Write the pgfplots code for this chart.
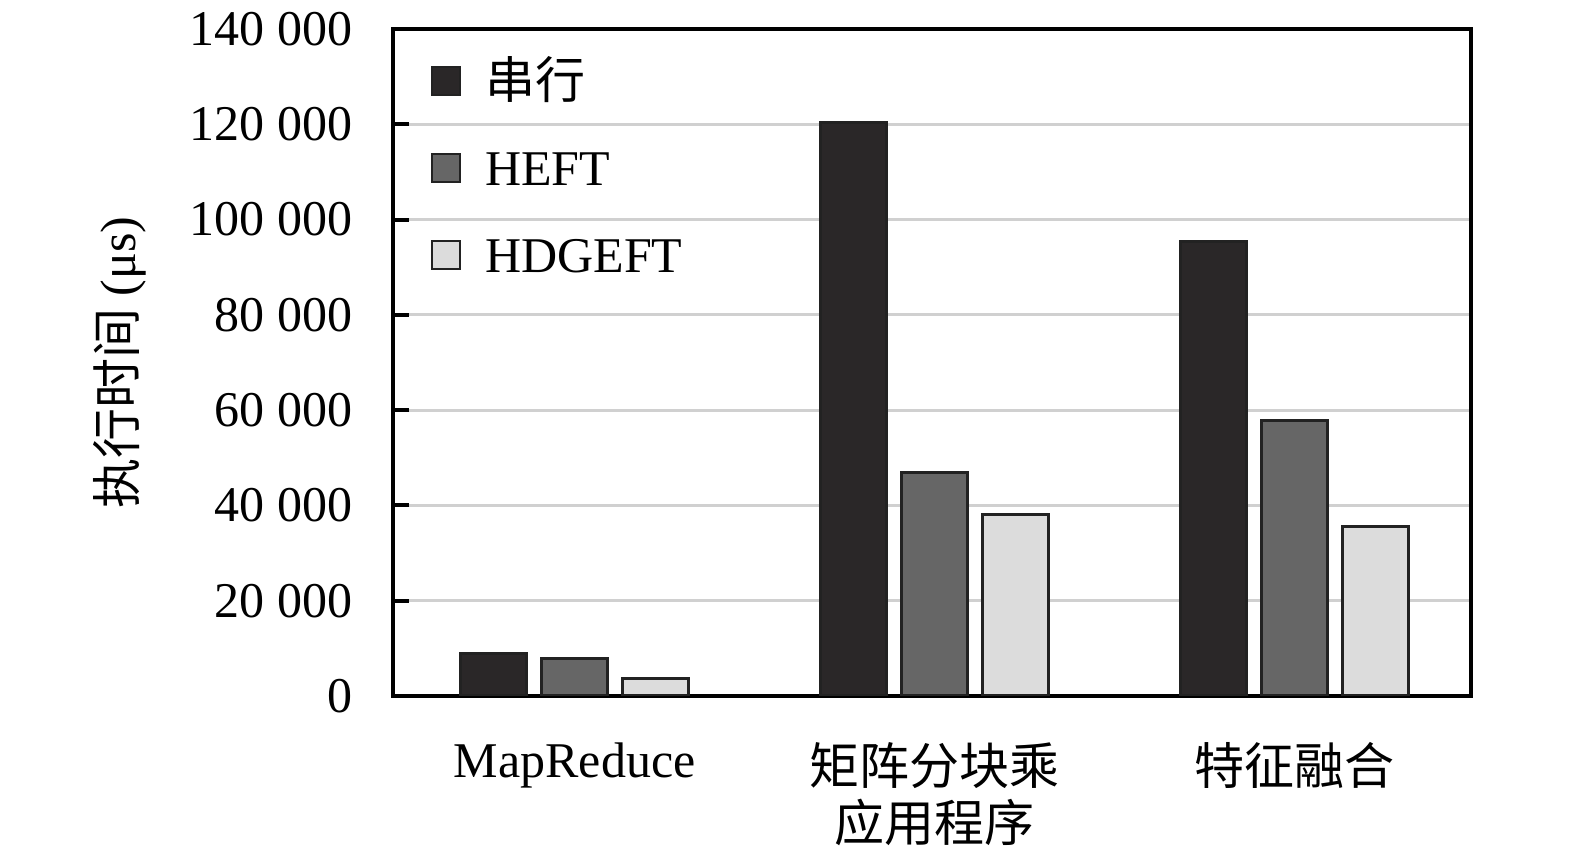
\documentclass[border=0pt]{standalone}
\usepackage{pgfplots}
\pgfplotsset{compat=1.18}
\usepackage{fontspec}
\setmainfont{Liberation Serif}
\newfontfamily\cjk{Noto Sans CJK SC}
\definecolor{cSer}{HTML}{2A2728}
\definecolor{cHeft}{HTML}{666666}
\definecolor{cHd}{HTML}{DCDCDC}
\definecolor{cEdge}{HTML}{222222}
\definecolor{cGrid}{HTML}{D0D0D0}
\newcommand{\fs}{\fontsize{12.5}{14.25}\selectfont}
\begin{document}
\begin{tikzpicture}
\begin{axis}[
  width=269.5pt, height=166.75pt, scale only axis,
  xmin=-0.505, xmax=2.49, ymin=0, ymax=140000,
  scaled y ticks=false,
  ybar, bar width=0.183,
  xtick={0,1,2},
  xticklabels={{MapReduce},{{\cjk 矩阵分块乘}\\{\cjk 应用程序}},{{\cjk 特征融合}}},
  xticklabel style={align=center, inner sep=0pt, font=\fs},
  xticklabel shift=11.5pt,
  ytick={0,20000,40000,60000,80000,100000,120000,140000},
  yticklabels={0,20 000,40 000,60 000,80 000,100 000,120 000,140 000},
  yticklabel style={inner sep=0pt, font=\fs},
  yticklabel shift=10pt,
  ymajorgrids, grid style={cGrid, line width=0.75pt},
  ytick pos=left, tick align=inside,
  xtick style={draw=none},
  ytick style={black, line width=1pt},
  major tick length=4pt,
  axis line style={line width=1pt, black},
  ylabel={{\cjk 执行时间} (μs)},
  every axis y label/.style={at={(axis description cs:-0.2532,0.5)}, rotate=90, anchor=center, font=\fs},
  legend image code/.code={\draw[#1, line width=0.6pt] (0pt,-2.1pt) rectangle (7pt,4.9pt);},
  legend style={draw=none, fill=none, inner sep=0pt, at={(axis description cs:0.0343,0.9505)}, anchor=north west,
    row sep=9.75pt, column sep=6pt, font=\fs,
    nodes={inner sep=0pt, text height=9pt, text depth=3pt}, cells={anchor=west}},
]
\addplot[fill=cSer, draw=cEdge, line width=0.75pt, bar shift=-0.225] coordinates {(0,8900) (1,120400) (2,95400)};
\addlegendentry{{\cjk 串行}}
\addplot[fill=cHeft, draw=cEdge, line width=0.75pt, bar shift=0] coordinates {(0,7800) (1,47000) (2,57800)};
\addlegendentry{HEFT}
\addplot[fill=cHd, draw=cEdge, line width=0.75pt, bar shift=0.225] coordinates {(0,3750) (1,38000) (2,35600)};
\addlegendentry{HDGEFT}
\end{axis}
\path (current axis.south west) ++(-98.25pt,-39.25pt) (current axis.north east) ++(26pt,7.25pt);
\end{tikzpicture}
\end{document}
